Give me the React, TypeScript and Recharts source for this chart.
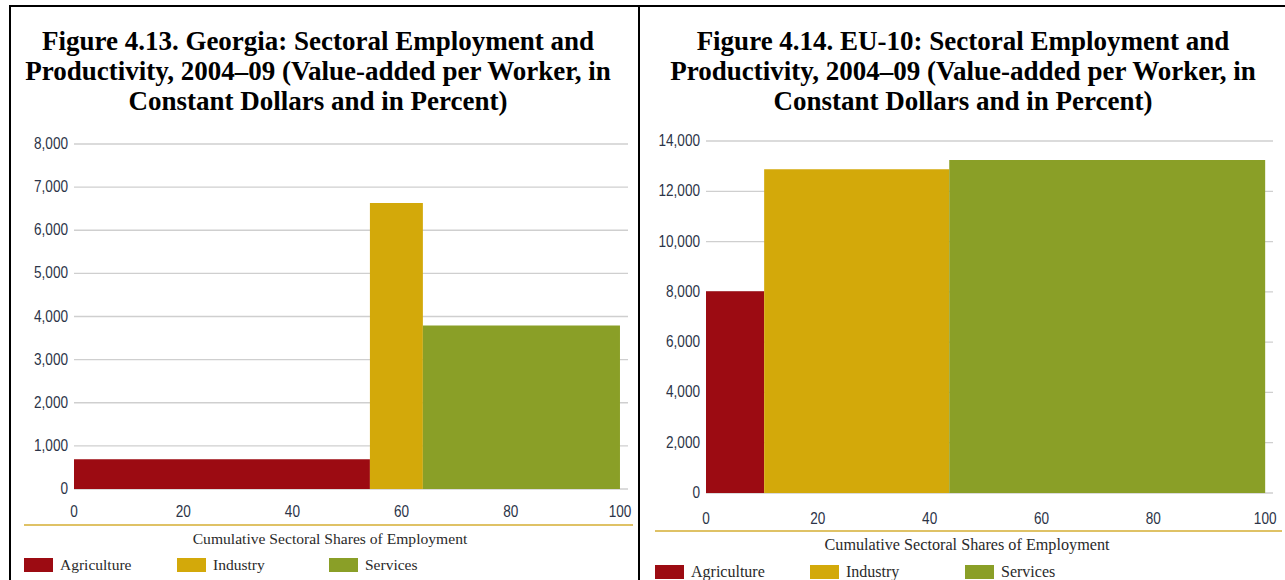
import React from 'react';
import { ComposedChart, XAxis, YAxis, CartesianGrid, ReferenceArea, Line } from 'recharts';

const sectors = ['Agriculture', 'Industry', 'Services'];
const sectorColors = ['#9c0b12', '#d3a90a', '#8a9f27'];

// employment shares (percent) and value-added per worker
const georgiaShares = [54.2, 9.7, 36.1];
const georgiaValues = [690, 6630, 3790];
const eu10Shares = [10.4, 33.1, 56.5];
const eu10Values = [8020, 12880, 13240];

const xTicks = [0, 20, 40, 60, 80, 100];
const georgiaYTicks = [0, 1000, 2000, 3000, 4000, 5000, 6000, 7000, 8000];
const eu10YTicks = [0, 2000, 4000, 6000, 8000, 10000, 12000, 14000];

const georgiaTitle = ['Figure 4.13. Georgia: Sectoral Employment and', 'Productivity, 2004–09 (Value-added per Worker, in', 'Constant Dollars and in Percent)'];
const eu10Title = ['Figure 4.14. EU-10: Sectoral Employment and', 'Productivity, 2004–09 (Value-added per Worker, in', 'Constant Dollars and in Percent)'];

const axisFont = '"Liberation Sans Narrow", "Liberation Sans", sans-serif';
const textFont = '"Liberation Serif", "DejaVu Serif", serif';
const tickColor = '#2c3448';

// narrow, tall tick labels like the original
const NarrowTick = (props: any) => {
    const { x, y, payload, textAnchor, orientation, drop } = props;
    const label = orientation === 'left' ? Number(payload.value).toLocaleString('en-US') : String(payload.value);
    const dy = orientation === 'left' ? 5 : drop;
    return (
        <text
            transform={`translate(${x},${y + dy}) scale(0.8,1)`}
            textAnchor={textAnchor}
            fill={tickColor}
            fontSize={17}
            fontFamily={axisFont}
        >
            {label}
        </text>
    );
};

const buildSegments = (shares: number[], values: number[]) => {
    let acc = 0;
    return shares.map((s, i) => {
        const start = acc;
        acc += s;
        return { name: sectors[i], start, end: acc, value: values[i], color: sectorColors[i] };
    });
};

interface PanelProps {
    title: string[];
    titleCenter: number;
    shares: number[];
    values: number[];
    yTicks: number[];
    chart: { left: number; top: number; width: number; height: number; margin: any; xMax: number; tickDrop: number };
    ruleY: number;
    ruleX: [number, number];
    captionY: number;
    captionCenter: number;
    captionSize: number;
    legendY: number;
    legendX: number[];
    fontSize: number;
}

const Panel: React.FC<PanelProps> = (p) => {
    const segments = buildSegments(p.shares, p.values);
    const yMax = p.yTicks[p.yTicks.length - 1];
    return (
        <>
            <div style={{ position: 'absolute', left: p.titleCenter - 320, width: 640, top: 26, textAlign: 'center', fontFamily: textFont, fontWeight: 'bold', fontSize: 27, lineHeight: '30px', color: '#000' }}>
                {p.title.map((t) => <div key={t}>{t}</div>)}
            </div>
            <div style={{ position: 'absolute', left: p.chart.left, top: p.chart.top }}>
                <ComposedChart width={p.chart.width} height={p.chart.height} data={segments} margin={p.chart.margin}>
                    <CartesianGrid vertical={false} stroke="#cfcfcf" strokeWidth={1.3} />
                    <XAxis
                        type="number"
                        dataKey="start"
                        domain={[0, p.chart.xMax]}
                        ticks={xTicks}
                        axisLine={false}
                        tickLine={false}
                        tickMargin={0}
                        height={30}
                        tick={<NarrowTick orientation="bottom" drop={p.chart.tickDrop} />}
                    />
                    <YAxis
                        type="number"
                        domain={[0, yMax]}
                        ticks={p.yTicks}
                        axisLine={false}
                        tickLine={false}
                        tickMargin={0}
                        width={60}
                        tick={<NarrowTick orientation="left" />}
                    />
                    {/* invisible series so the value axis is registered */}
                    <Line dataKey="value" stroke="none" dot={false} activeDot={false} isAnimationActive={false} />
                    {segments.map((s) => (
                        <ReferenceArea
                            key={s.name}
                            x1={s.start}
                            x2={s.end}
                            y1={0}
                            y2={s.value}
                            fill={s.color}
                            fillOpacity={1}
                            stroke="none"
                        />
                    ))}
                </ComposedChart>
            </div>
            <div style={{ position: 'absolute', left: p.ruleX[0], width: p.ruleX[1] - p.ruleX[0], top: p.ruleY, height: 2, background: '#dfc266' }} />
            <div style={{ position: 'absolute', left: p.captionCenter - 250, width: 500, top: p.captionY - 10, textAlign: 'center', fontFamily: textFont, fontSize: p.captionSize, color: '#2a2a2a' }}>
                Cumulative Sectoral Shares of Employment
            </div>
            {sectors.map((name, i) => (
                <div key={name} style={{ position: 'absolute', left: p.legendX[i], top: p.legendY - 9, height: 18, display: 'flex', alignItems: 'center', fontFamily: textFont, fontSize: p.fontSize, color: '#2a2a2a' }}>
                    <span style={{ display: 'inline-block', width: 29, height: 14, background: sectorColors[i], marginRight: 7 }} />
                    <span>{name}</span>
                </div>
            ))}
        </>
    );
};

export default function App() {
    return (
        <div style={{ position: 'absolute', left: 0, top: 0, width: 1285, height: 580, background: '#fff', overflow: 'hidden' }}>
            <div style={{ position: 'absolute', left: 9, top: 5, width: 1276, height: 2, background: '#000' }} />
            <div style={{ position: 'absolute', left: 9, top: 5, width: 2, height: 575, background: '#000' }} />
            <div style={{ position: 'absolute', left: 638, top: 5, width: 2, height: 575, background: '#000' }} />
            <Panel
                title={georgiaTitle}
                titleCenter={318}
                shares={georgiaShares}
                values={georgiaValues}
                yTicks={georgiaYTicks}
                chart={{ left: 0, top: 130, width: 636, height: 400, margin: { top: 14, right: 8, left: 14, bottom: 11 }, xMax: 101.47, tickDrop: 22 }}
                ruleY={524}
                ruleX={[24, 633]}
                captionY={540}
                captionCenter={330}
                captionSize={15.6}
                legendY={565}
                legendX={[24, 177, 329]}
                fontSize={15.5}
            />
            <Panel
                title={eu10Title}
                titleCenter={963}
                shares={eu10Shares}
                values={eu10Values}
                yTicks={eu10YTicks}
                chart={{ left: 640, top: 125, width: 645, height: 410, margin: { top: 16, right: 12, left: 6, bottom: 12 }, xMax: 101.4, tickDrop: 25 }}
                ruleY={530}
                ruleX={[655, 1282]}
                captionY={546}
                captionCenter={967}
                captionSize={16.2}
                legendY={572}
                legendX={[655, 810, 965]}
                fontSize={16}
            />
        </div>
    );
}
